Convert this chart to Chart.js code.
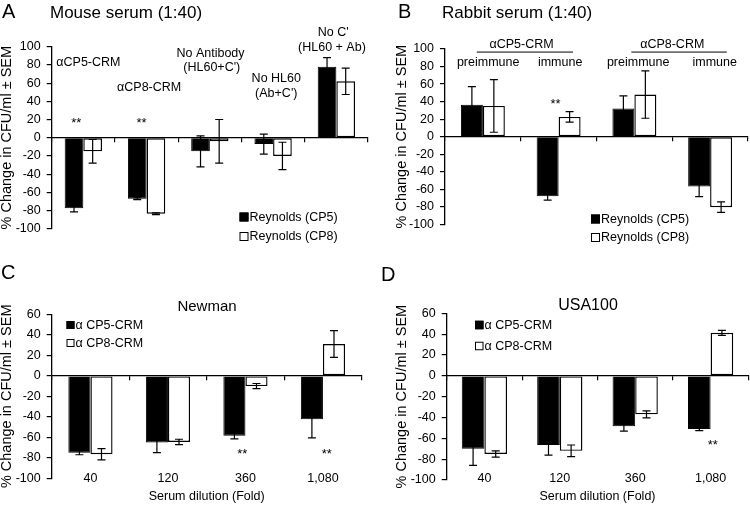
<!DOCTYPE html>
<html>
<head>
<meta charset="utf-8">
<script src="https://cdn.jsdelivr.net/npm/chart.js@4.4.1/dist/chart.umd.min.js"></script>
<style>
  html, body { margin: 0; padding: 0; background: #fff; }
  #page { position: relative; width: 750px; height: 513px; overflow: hidden;
          font-family: "Liberation Sans", Arial, sans-serif; color: #000; }
  .panel { position: absolute; }
  .letter { position: absolute; font-size: 20px; line-height: 20px; }
  .title { position: absolute; line-height: 1; white-space: nowrap; }
</style>
</head>
<body>
<div id="page">
  <div class="panel" style="left:0;top:0"><canvas id="chartA" width="375" height="260"></canvas></div>
  <div class="panel" style="left:375px;top:0"><canvas id="chartB" width="375" height="260"></canvas></div>
  <div class="panel" style="left:0;top:260px"><canvas id="chartC" width="375" height="253"></canvas></div>
  <div class="panel" style="left:375px;top:260px"><canvas id="chartD" width="375" height="253"></canvas></div>

  <div class="letter" style="left:2px;top:1px">A</div>
  <div class="title" style="left:50px;top:4px;font-size:17px">Mouse serum (1:40)</div>
  <div class="letter" style="left:398px;top:1px">B</div>
  <div class="title" style="left:442px;top:4px;font-size:17px">Rabbit serum (1:40)</div>
  <div class="letter" style="left:1px;top:262px">C</div>
  <div class="title" style="left:207px;top:298px;font-size:15px;transform:translateX(-50%)">Newman</div>
  <div class="letter" style="left:381px;top:264px">D</div>
  <div class="title" style="left:588px;top:297px;font-size:16px;transform:translateX(-50%)">USA100</div>
</div>

<script>
// A - mouse serum
const mouseGroups = ['αCP5-CRM', 'αCP8-CRM', 'No Antibody', 'No HL60', "No C'"];
const mouseCP5 = [-77.5, -67, -15, -7, 78];
const mouseCP5Err = [4, 1, 17, 11, 10];
const mouseCP8 = [-15, -83.5, -4, -20, 62];
const mouseCP8Err = [13, 1, 24, 15, 14.5];

// B - rabbit serum
const rabbitGroups = ['αCP5-CRM preimmune', 'αCP5-CRM immune', 'αCP8-CRM preimmune', 'αCP8-CRM immune'];
const rabbitCP5 = [36.5, -68, 32, -57];
const rabbitCP5Err = [20.5, 4.5, 14.5, 11.5];
const rabbitCP8 = [35, 22.5, 48, -80.5];
const rabbitCP8Err = [30, 6, 27, 6];

// C / D - serum dilutions
const dilutions = ['40', '120', '360', '1,080'];
const newmanCP5 = [-75, -65, -58.5, -42.5];
const newmanCP5Err = [2, 10, 3, 18];
const newmanCP8 = [-76.5, -64.5, -10, 31];
const newmanCP8Err = [5.5, 2.6, 2.5, 13];
const usaCP5 = [-70, -66.5, -48.5, -51];
const usaCP5Err = [16, 9.6, 4.5, 1.6];
const usaCP8 = [-75, -72, -37, 41.3];
const usaCP8Err = [3, 5.6, 3.4, 2.4];

const yTitle = '% Change in CFU/ml ± SEM';
const fontFamily = '"Liberation Sans", Arial, sans-serif';

Chart.defaults.font.family = fontFamily;
Chart.defaults.color = '#000';

// error bars drawn from each bar's own position
const errorBars = {
    id: 'errorBars',
    afterDatasetsDraw(chart) {
        const ctx = chart.ctx;
        const y = chart.scales.y;
        ctx.save();
        ctx.strokeStyle = '#000';
        ctx.lineWidth = 1.2;
        chart.data.datasets.forEach((ds, i) => {
            chart.getDatasetMeta(i).data.forEach((bar, j) => {
                const v = ds.data[j], e = ds.errors[j];
                const top = y.getPixelForValue(v + e);
                const bot = y.getPixelForValue(v - e);
                ctx.beginPath();
                ctx.moveTo(bar.x, top); ctx.lineTo(bar.x, bot);
                ctx.moveTo(bar.x - 4, top); ctx.lineTo(bar.x + 4, top);
                ctx.moveTo(bar.x - 4, bot); ctx.lineTo(bar.x + 4, bot);
                ctx.stroke();
            });
        });
        ctx.restore();
    }
};

// text notes (placed by category index / value) and a small legend
function notes(items, legend) {
    return {
        id: 'notes',
        afterDraw(chart) {
            const {ctx, scales: {x, y}} = chart;
            ctx.save();
            ctx.fillStyle = '#000';
            ctx.strokeStyle = '#000';
            ctx.textAlign = 'center';
            ctx.textBaseline = 'middle';
            items.forEach(n => {
                const py = y.getPixelForValue(n.v);
                if (n.line) {
                    ctx.lineWidth = 1;
                    ctx.beginPath();
                    ctx.moveTo(x.getPixelForValue(n.line[0]), py);
                    ctx.lineTo(x.getPixelForValue(n.line[1]), py);
                    ctx.stroke();
                } else {
                    ctx.font = (n.size || 12.5) + 'px ' + fontFamily;
                    ctx.fillText(n.text, x.getPixelForValue(n.i), py);
                }
            });
            ctx.textAlign = 'left';
            ctx.font = '12.5px ' + fontFamily;
            ctx.lineWidth = 1;
            const s = legend.box;
            chart.data.datasets.forEach((ds, k) => {
                const cy = legend.y + k * legend.gap;
                ctx.fillStyle = ds.backgroundColor;
                ctx.fillRect(legend.x, cy - s / 2, s, s);
                ctx.strokeRect(legend.x + 0.5, cy - s / 2 + 0.5, s - 1, s - 1);
                ctx.fillStyle = '#000';
                ctx.fillText(ds.label, legend.x + s + 1, cy + 0.5);
            });
            ctx.restore();
        }
    };
}

function yAxis(min, max, width, titlePad) {
    return {
        min: min,
        max: max,
        ticks: { stepSize: 20, padding: 6, autoSkip: false, font: { size: 12.5 } },
        grid: { drawOnChartArea: false, color: '#000', tickLength: 5, lineWidth: 1.2 },
        border: { color: '#000', width: 1.3 },
        title: { display: true, text: yTitle, font: { size: 14.5 }, padding: { top: titlePad, bottom: 0 } },
        afterFit(s) { s.width = width; }
    };
}

const zeroAxis = {
    position: { y: 0 },
    offset: true,
    ticks: { display: false },
    grid: { offset: true, drawOnChartArea: false, color: '#000', tickLength: 4, lineWidth: 1.2 },
    border: { color: '#000', width: 1.3 }
};

// dilution labels sit at the -100 level, below the bars
function dilutionAxis(height, labelPad, titlePad) {
    return {
        type: 'category',
        labels: dilutions,
        position: { y: -100 },
        offset: true,
        grid: { display: false, drawTicks: false },
        border: { display: false },
        ticks: { padding: labelPad, font: { size: 12.5 } },
        title: { display: true, text: 'Serum dilution (Fold)', font: { size: 12.5 }, padding: { top: 0, bottom: titlePad } },
        afterFit(s) { s.height = height; }
    };
}

function bars(labels, names, d5, e5, d8, e8, pct) {
    return {
        labels: labels,
        datasets: [{
            label: names[0], data: d5, errors: e5,
            backgroundColor: '#000', borderColor: '#000', borderWidth: 1,
            categoryPercentage: pct, barPercentage: 1
        }, {
            label: names[1], data: d8, errors: e8,
            backgroundColor: '#fff', borderColor: '#000', borderWidth: 1.4, borderSkipped: false,
            categoryPercentage: pct, barPercentage: 1
        }]
    };
}

const baseOptions = {
    responsive: false,
    animation: false,
    events: [],
    plugins: { legend: { display: false }, tooltip: { enabled: false } }
};

// A - Mouse serum
new Chart(document.getElementById('chartA'), {
    type: 'bar',
    data: bars(mouseGroups, ['Reynolds (CP5)', 'Reynolds (CP8)'], mouseCP5, mouseCP5Err, mouseCP8, mouseCP8Err, 0.59),
    options: Object.assign({}, baseOptions, {
        layout: { padding: { top: 46.7, right: 7, bottom: 31.3, left: 0 } },
        scales: { x: zeroAxis, y: yAxis(-100, 100, 51.7, -1.5) }
    }),
    plugins: [errorBars, notes([
        { text: 'αCP5-CRM', i: 0.08, v: 83 },
        { text: 'αCP8-CRM', i: 1.04, v: 55 },
        { text: 'No Antibody', i: 2.01, v: 92.6 },
        { text: "(HL60+C')", i: 2.03, v: 77 },
        { text: 'No HL60', i: 3.05, v: 65 },
        { text: "(Ab+C')", i: 3.05, v: 48.7 },
        { text: "No C'", i: 3.95, v: 115.7 },
        { text: '(HL60 + Ab)', i: 3.93, v: 99.2 },
        { text: '**', i: -0.11, v: 15.7, size: 13 },
        { text: '**', i: 0.92, v: 15.7, size: 13 }
    ], { x: 239.5, y: 217, gap: 19.5, box: 9 })]
});

// B - Rabbit serum
new Chart(document.getElementById('chartB'), {
    type: 'bar',
    data: bars(rabbitGroups, ['Reynolds (CP5)', 'Reynolds (CP8)'], rabbitCP5, rabbitCP5Err, rabbitCP8, rabbitCP8Err, 0.58),
    options: Object.assign({}, baseOptions, {
        layout: { padding: { top: 49, right: 2, bottom: 35.7, left: 0 } },
        scales: { x: zeroAxis, y: yAxis(-100, 100, 70, 18.3) }
    }),
    plugins: [errorBars, notes([
        { text: 'αCP5-CRM', i: 0.51, v: 105.5 },
        { line: [-0.08, 1.19], v: 96.5 },
        { text: 'preimmune', i: 0.07, v: 85 },
        { text: 'immune', i: 1.02, v: 85 },
        { text: 'αCP8-CRM', i: 2.5, v: 105.5 },
        { line: [1.96, 3.22], v: 96.5 },
        { text: 'preimmune', i: 2.05, v: 85 },
        { text: 'immune', i: 3.06, v: 85 },
        { text: '**', i: 0.96, v: 36.5, size: 13 }
    ], { x: 216, y: 219, gap: 18.5, box: 9 })]
});

// C - Newman
new Chart(document.getElementById('chartC'), {
    type: 'bar',
    data: bars(dilutions, ['α CP5-CRM', 'α CP8-CRM'], newmanCP5, newmanCP5Err, newmanCP8, newmanCP8Err, 0.57),
    options: Object.assign({}, baseOptions, {
        layout: { padding: { top: 54.3, right: 13.3, bottom: 34.7, left: 0 } },
        scales: { x: zeroAxis, x2: dilutionAxis(34.7, -7.5, 9), y: yAxis(-100, 60, 51.7, -2) }
    }),
    plugins: [errorBars, notes([
        { text: '**', i: 1.96, v: -77, size: 13 },
        { text: '**', i: 3.05, v: -77, size: 13 }
    ], { x: 66.5, y: 65, gap: 18, box: 8 })]
});

// D - USA100
new Chart(document.getElementById('chartD'), {
    type: 'bar',
    data: bars(dilutions, ['α CP5-CRM', 'α CP8-CRM'], usaCP5, usaCP5Err, usaCP8, usaCP8Err, 0.6),
    options: Object.assign({}, baseOptions, {
        layout: { padding: { top: 53.3, right: 1.7, bottom: 33, left: 0 } },
        scales: { x: zeroAxis, x2: dilutionAxis(33, -9, 8.5), y: yAxis(-100, 60, 71.7, 18) }
    }),
    plugins: [errorBars, notes([
        { text: '**', i: 3.03, v: -67, size: 13 }
    ], { x: 100, y: 65, gap: 21, box: 8.5 })]
});
</script>
</body>
</html>
